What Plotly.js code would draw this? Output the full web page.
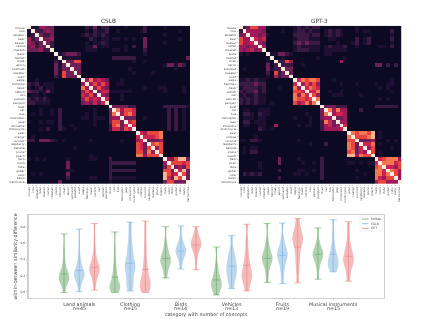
<!DOCTYPE html>
<html><head><meta charset="utf-8">
<script src="https://cdn.plot.ly/plotly-3.0.1.min.js"></script>
<style>html,body{margin:0;padding:0;background:#fff}#c{filter:blur(0.35px)}</style></head>
<body><div id="c" style="width:423px;height:319px"></div>
<script>
const concepts = ["mouse","cow","alligator","bear","beaver","camel","cheetah","jeans","helmet","cloak","apron","swimsuit","sweater","scarf","eagle","flamingo","hawk","ostrich","owl","pelican","penguin","boat","car","bus","helicopter","jeep","limousine","motorcycle","pear","orange","coconut","raspberry","banana","prune","peach","harp","violin","flute","guitar","cello","banjo","harmonica"];

// lower triangles of the similarity matrices, read in tenths, grouped every 7 concepts
const cslbLower = [
"",
"1","12","423","4323","34233","333422",
"0000000",
"0000000 1","0000000 21","0000000 313","0000000 3133","0000000 31633","0000000 216333",
"0010000 0000000",
"2120111 0000000 4",
"1012011 0000000 74",
"3221131 0000000 464",
"0110100 0000000 5463",
"2121210 0000000 46454",
"2211110 0000000 343535",
"0000000 0000000 0000000",
"0001001 0200000 0001000 3",
"0101001 0200000 0101000 37",
"0000000 0200000 1101110 344",
"1001011 0200000 0001000 3663",
"0000000 0200100 0001000 26735",
"0001020 0210010 0000000 255365",
"0000000 0000000 0000000 0000000",
"0100000 0000000 0000000 0000000 5",
"2203332 1010000 0010000 0001000 45",
"0000000 0000000 0000000 0000000 653",
"0000000 0000010 0000000 0000000 6536",
"0000000 0000000 0000000 0000000 66374",
"0000000 0000000 0010000 0000000 774666",
"1010100 0001000 0011000 2000000 0000000",
"0000000 0003000 0000000 2222222 0000000 4",
"0000000 0003000 0000000 2000000 0000000 36",
"0000000 0001100 0000000 2222222 0000000 663",
"0101000 0003000 0000000 2000000 0000000 8645",
"0000000 0002000 0011000 2111111 0000000 85386",
"0000000 0300000 0000000 1000000 0000000 366333"
];
const gptLower = [
"",
"2","34","644","6445","44344","434534",
"1010000",
"0000000 1","0000000 10","0000000 302","0100000 3122","0000000 20623","0000000 104233",
"1121211 0000000",
"2222322 0000000 5",
"1222212 0001000 74",
"2122312 0000000 665",
"1211211 0000000 7475",
"2121211 0000000 76656",
"2121211 0100000 645747",
"0000000 0000000 0000000",
"0110011 1000000 0000000 3",
"0221021 1000000 0001000 37",
"0111011 0000000 1000100 344",
"0220111 0000000 0000100 2753",
"0110011 0040000 0101100 24534",
"0000021 0100000 0000000 244445",
"0000000 0000000 0000000 0000000",
"0000100 0000000 0000000 0000000 7",
"1102210 0000000 0100000 0000000 66",
"0000000 0000000 0000100 0200000 763",
"0101100 0000000 0000000 0000000 7635",
"0102200 0000000 0000000 0000000 67354",
"0000000 0000000 0000000 0000000 884766",
"0000000 0003000 0100000 2000000 0000000",
"0000010 0003000 0010010 2000000 1101011 5",
"0000010 0000000 0000000 2000000 0000000 67",
"0000000 0002000 0110010 2000000 0010000 775",
"0212120 0000000 1101000 2000000 0000100 7757",
"0000000 0002000 0000000 2000000 0010000 75466",
"0000000 0000000 0000000 0000000 0000000 466444"
];

const groupCats = ["Land animals","Clothing","Birds","Vehicles","Fruits","Musical instruments"];
const groupCounts = ["n=45","n=15","n=14","n=13","n=19","n=15"];
const groupIdx = [0,1,2,3,4,5];
const seriesNames = ["McRae","CSLB","GPT"];
const seriesLine = ["#6aa86a","#7db2dc","#ea8585"];
const seriesFill = ["rgba(70,145,70,0.42)","rgba(95,160,215,0.42)","rgba(230,90,90,0.42)"];
const seriesOffset = [-0.3,0,0.3];
const meansByGroup = [
 [0.22,0.26,0.30],[0.18,0.35,0.275],[0.41,0.50,0.575],[0.145,0.315,0.325],[0.41,0.445,0.55],[0.46,0.46,0.435]
];
const samples = [
 [[-0.01,0.06,0.1,0.12,0.14,0.15,0.16,0.17,0.18,0.19,0.2,0.22,0.24,0.27,0.3,0.36,0.45,0.55,0.71],
  [0,0.07,0.12,0.15,0.17,0.19,0.2,0.21,0.22,0.23,0.24,0.26,0.28,0.31,0.35,0.4,0.48,0.6,0.77],
  [0.02,0.1,0.15,0.19,0.22,0.24,0.26,0.27,0.28,0.29,0.3,0.32,0.35,0.38,0.42,0.48,0.55,0.68,0.84]],
 [[-0.01,0,0.02,0.04,0.05,0.06,0.07,0.09,0.11,0.14,0.18,0.22,0.27,0.33,0.42,0.55,0.735],
  [0.01,0.06,0.1,0.15,0.2,0.25,0.28,0.3,0.33,0.36,0.4,0.45,0.5,0.56,0.64,0.75,0.855],
  [-0.01,0,0.02,0.05,0.08,0.1,0.12,0.15,0.18,0.22,0.27,0.33,0.4,0.5,0.6,0.74,0.87]],
 [[0.17,0.22,0.28,0.32,0.35,0.37,0.38,0.39,0.41,0.43,0.46,0.5,0.55,0.62,0.8],
  [0.28,0.36,0.42,0.45,0.47,0.49,0.5,0.51,0.52,0.54,0.56,0.6,0.66,0.81],
  [0.27,0.4,0.48,0.52,0.55,0.57,0.58,0.59,0.6,0.62,0.65,0.68,0.72,0.8]],
 [[-0.04,-0.01,0.03,0.06,0.08,0.09,0.1,0.12,0.15,0.18,0.22,0.27,0.35,0.55],
  [0.04,0.1,0.16,0.2,0.24,0.26,0.3,0.33,0.37,0.41,0.46,0.53,0.69],
  [0.01,0.08,0.13,0.17,0.2,0.22,0.25,0.3,0.35,0.41,0.5,0.63,0.83]],
 [[0.115,0.22,0.3,0.35,0.38,0.4,0.41,0.43,0.46,0.5,0.55,0.62,0.84],
  [0.1,0.22,0.3,0.36,0.4,0.43,0.45,0.47,0.5,0.53,0.58,0.66,0.845],
  [0.11,0.25,0.35,0.42,0.5,0.56,0.6,0.63,0.66,0.68,0.72,0.76,0.82,0.9]],
 [[0.155,0.28,0.35,0.4,0.43,0.45,0.46,0.47,0.49,0.52,0.56,0.62,0.785],
  [0.245,0.27,0.3,0.33,0.35,0.37,0.4,0.43,0.47,0.52,0.6,0.72,0.885],
  [0.13,0.22,0.3,0.34,0.37,0.39,0.42,0.45,0.49,0.54,0.6,0.72,0.86]]
];

function matrix(lower){
  const n = concepts.length;
  const z = Array.from({length:n},()=>new Array(n).fill(10));
  lower.forEach((row,i)=>{
    row.replace(/ /g,'').split('').forEach((d,j)=>{ z[i][j]=+d; z[j][i]=+d; });
  });
  return z;
}
const rocket = [[0,'#0c0923'],[0.1,'#1e1033'],[0.2,'#3a1a42'],[0.3,'#6d1f56'],[0.4,'#a01a5a'],[0.5,'#cc2350'],[0.6,'#e8453f'],[0.7,'#f37651'],[0.8,'#f6b48f'],[1,'#faebdd']];
const idx = concepts.map((_,i)=>i);
const W=423,H=319;
const font={family:'"DejaVu Sans",sans-serif',color:'#444'};
const hx=(a,d)=>({domain:d,range:[-0.5,41.5],tickmode:'array',tickvals:idx,ticktext:concepts,tickangle:-90,tickfont:{...font,size:2.8},ticks:'outside',ticklen:1,tickwidth:0.3,tickcolor:'#555',showgrid:false,zeroline:false,anchor:a,showline:false});
const hy=(a,d)=>({domain:d,range:[41.5,-0.5],tickmode:'array',tickvals:idx,ticktext:concepts,tickfont:{...font,size:2.8},ticks:'outside',ticklen:1,tickwidth:0.3,tickcolor:'#555',showgrid:false,zeroline:false,anchor:a,showline:false});

const traces=[
 {type:'heatmap',z:matrix(cslbLower),xaxis:'x',yaxis:'y',zmin:0,zmax:10,colorscale:rocket,showscale:false,hoverinfo:'skip'},
 {type:'heatmap',z:matrix(gptLower),xaxis:'x2',yaxis:'y2',zmin:0,zmax:10,colorscale:rocket,showscale:false,hoverinfo:'skip'}
];
seriesNames.forEach((name,s)=>{
  samples.forEach((g,gi)=>{
    traces.push({type:'violin',name,x0:gi+seriesOffset[s],y:g[s],xaxis:'x3',yaxis:'y3',width:0.21,scalemode:'width',spanmode:'hard',bandwidth:0.06,
      line:{color:'rgba(0,0,0,0)',width:0},fillcolor:seriesFill[s],points:false,box:{visible:false},meanline:{visible:false},showlegend:false,hoverinfo:'skip'});
  });
  const lx=[],ly=[],mx=[],my=[];
  samples.forEach((g,gi)=>{
    const lo=Math.min(...g[s]),hi=Math.max(...g[s]),p=gi+seriesOffset[s];
    lx.push(p,p,null);ly.push(lo,hi,null);
    mx.push(p,p,p);my.push(lo,meansByGroup[gi][s],hi);
  });
  traces.push({type:'scatter',mode:'lines',x:lx,y:ly,xaxis:'x3',yaxis:'y3',line:{color:seriesLine[s],width:0.6},showlegend:false,hoverinfo:'skip'});
  traces.push({type:'scatter',mode:'markers',x:mx,y:my,xaxis:'x3',yaxis:'y3',marker:{symbol:'line-ew',size:5,line:{color:seriesLine[s],width:0.6}},showlegend:false,hoverinfo:'skip'});
});

const px=v=>v/W, py=v=>1-v/H;
const legendShapes=[{type:'rect',xref:'paper',yref:'paper',x0:px(360),x1:px(383),y0:py(231),y1:py(216),line:{color:'#e2e2e2',width:0.5},fillcolor:'#fff'}];
const legendNotes=[];
seriesNames.forEach((n,i)=>{
  const yy=py(219+i*4.7);
  legendShapes.push({type:'line',xref:'paper',yref:'paper',x0:px(362),x1:px(368.5),y0:yy,y1:yy,line:{color:seriesLine[i],width:0.8}});
  legendNotes.push({xref:'paper',yref:'paper',x:px(370),y:yy,text:n,showarrow:false,xanchor:'left',yanchor:'middle',font:{...font,size:3},borderpad:0});
});
const countNotes=groupCounts.map((t,i)=>({xref:'x3',yref:'paper',x:groupIdx[i],y:py(308.5),text:t,showarrow:false,xanchor:'center',yanchor:'middle',font:{...font,size:4.8},borderpad:0}));
const layout={
 width:W,height:H,margin:{l:0,r:0,t:0,b:0},paper_bgcolor:'#fff',plot_bgcolor:'#fff',showlegend:false,violinmode:'overlay',
 xaxis:hx('y',[px(27),px(190)]),
 yaxis:hy('x',[py(184),py(25.7)]),
 xaxis2:hx('y2',[px(238.7),px(401.3)]),
 yaxis2:hy('x2',[py(184),py(25.7)]),
 xaxis3:{domain:[px(28.5),px(384)],range:[-1,6],anchor:'y3',tickmode:'array',tickvals:groupIdx,ticktext:groupCats,tickfont:{...font,size:4.8},ticks:'outside',ticklen:1,tickwidth:0.4,tickcolor:'#777',showgrid:false,zeroline:false,showline:true,mirror:true,linecolor:'#cfcfcf',linewidth:1.2},
 yaxis3:{domain:[py(298),py(215)],range:[-0.077,0.944],anchor:'x3',tickvals:[0,0.2,0.4,0.6,0.8],ticktext:['0.0','0.2','0.4','0.6','0.8'],tickfont:{...font,size:3},ticks:'outside',ticklen:1.5,tickwidth:0.4,tickcolor:'#777',showgrid:false,zeroline:false,showline:true,mirror:true,linecolor:'#cfcfcf',linewidth:1.2,
   title:{text:'within-between similarity difference',font:{...font,size:4.8},standoff:2}},
 shapes:legendShapes,
 annotations:[
  {xref:'paper',yref:'paper',x:px(108.5),y:py(21.5),text:'CSLB',showarrow:false,xanchor:'center',yanchor:'middle',font:{...font,size:5.8},borderpad:0},
  {xref:'paper',yref:'paper',x:px(319.5),y:py(21.5),text:'GPT-3',showarrow:false,xanchor:'center',yanchor:'middle',font:{...font,size:5.8},borderpad:0},
  {xref:'paper',yref:'paper',x:px(206),y:py(314.3),text:'category with number of concepts',showarrow:false,xanchor:'center',yanchor:'middle',font:{...font,size:4.8},borderpad:0}
 ].concat(legendNotes).concat(countNotes)
};
Plotly.newPlot('c',traces,layout,{displayModeBar:false,responsive:false,staticPlot:true});
</script></body></html>
